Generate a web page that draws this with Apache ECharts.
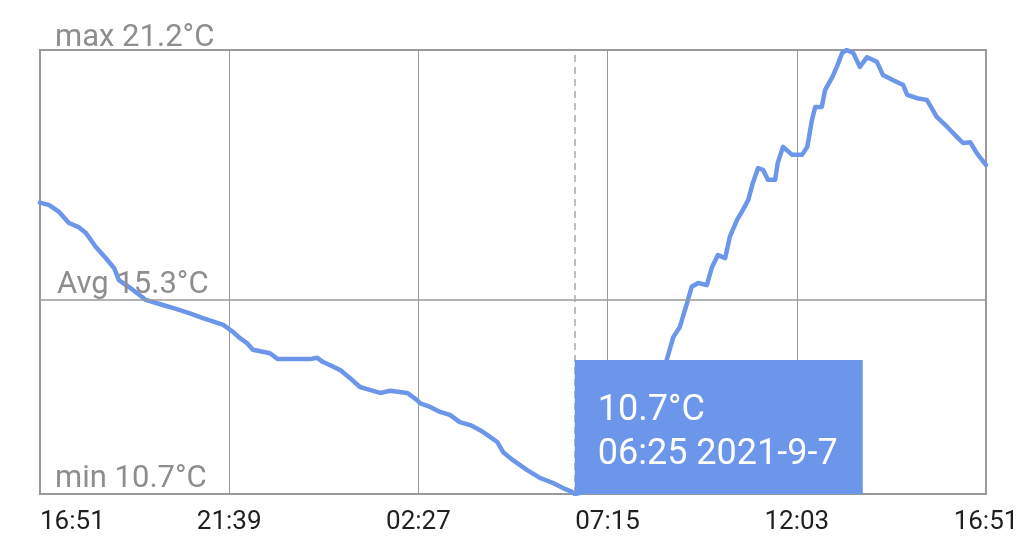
<!DOCTYPE html>
<html>
<head>
<meta charset="utf-8">
<script src="https://cdn.jsdelivr.net/npm/echarts@6/dist/echarts.min.js"></script>
<style>
  html, body { margin: 0; padding: 0; background: #ffffff; }
  #chart { width: 1024px; height: 541px; }
</style>
</head>
<body>
<div id="chart"></div>
<script>
// ---- data (minutes since 2021-9-6 16:51, temperature in °C) ----
const startLabel = { year: 2021, month: 9, day: 6, hour: 16, minute: 51 };
const minutes = [
  0, 14, 29, 44, 59, 70, 85, 100, 113, 120, 135, 151, 161, 187, 207, 227, 248, 279, 294, 304,
  315, 324, 350, 362, 388, 411, 422, 431, 441, 457, 472, 487, 498, 518, 533, 559, 574, 578, 594, 609,
  624, 639, 655, 670, 685, 696, 705, 720, 741, 761, 781, 796, 810, 814, 830, 850, 870, 890, 910, 930,
  945, 954, 964, 974, 985, 992, 1002, 1015, 1023, 1032, 1043, 1050, 1061, 1070, 1078, 1085, 1093, 1101, 1108, 1119,
  1123, 1131, 1145, 1160, 1168, 1175, 1180, 1190, 1195, 1206, 1213, 1221, 1228, 1238, 1248, 1259, 1274, 1283, 1298, 1314,
  1320, 1335, 1350, 1365, 1381, 1396, 1405, 1416, 1426, 1440
];
const temps = [
  17.59, 17.53, 17.37, 17.11, 17.01, 16.87, 16.54, 16.28, 16.04, 15.76, 15.60, 15.41, 15.29, 15.17, 15.08, 14.98, 14.86, 14.70, 14.53, 14.39,
  14.27, 14.11, 14.03, 13.89, 13.89, 13.89, 13.92, 13.82, 13.75, 13.63, 13.44, 13.23, 13.18, 13.09, 13.14, 13.09, 12.92, 12.85, 12.76, 12.64,
  12.57, 12.40, 12.33, 12.21, 12.05, 11.93, 11.69, 11.50, 11.27, 11.08, 10.96, 10.84, 10.75, 10.70, 10.75, 10.90, 11.20, 11.60, 12.10, 12.70,
  13.30, 13.87, 14.41, 14.65, 15.22, 15.60, 15.69, 15.64, 16.07, 16.35, 16.28, 16.78, 17.18, 17.42, 17.65, 18.05, 18.41, 18.36, 18.13, 18.13,
  18.53, 18.91, 18.72, 18.72, 18.91, 19.54, 19.85, 19.85, 20.25, 20.56, 20.80, 21.13, 21.20, 21.13, 20.80, 21.03, 20.92, 20.61, 20.49, 20.37,
  20.14, 20.06, 20.02, 19.62, 19.38, 19.14, 19.00, 19.02, 18.76, 18.48
];
const xTickLabels = ['16:51', '21:39', '02:27', '07:15', '12:03', '16:51'];
const tickStep = 288;
const statMax = 21.2;
const statAvg = 15.3;
const statMin = 10.7;

// ---- helpers ----
function pad(n) { return (n < 10 ? '0' : '') + n; }
function timeText(m) {
  const d = new Date(startLabel.year, startLabel.month - 1, startLabel.day, startLabel.hour, startLabel.minute + m);
  return pad(d.getHours()) + ':' + pad(d.getMinutes()) + ' ' + d.getFullYear() + '-' + (d.getMonth() + 1) + '-' + d.getDate();
}
let minIdx = 0;
temps.forEach((t, i) => { if (t < temps[minIdx]) minIdx = i; });

const seriesData = minutes.map((m, i) => [m, temps[i]]);
const FONT = 'Roboto';
const BLUE = '#6b96e9';
const GRAY = '#9a9a9a';

const chart = echarts.init(document.getElementById('chart'), null, { renderer: 'canvas' });
chart.setOption({
  animation: false,
  backgroundColor: '#ffffff',
  grid: { left: 40, right: 38, top: 50, bottom: 47, show: true, borderColor: GRAY, borderWidth: 2, backgroundColor: 'transparent' },
  xAxis: {
    type: 'value', min: 0, max: 1440, interval: tickStep,
    axisLine: { show: false }, axisTick: { show: false },
    splitLine: { show: true, lineStyle: { color: GRAY, width: 1 } },
    axisLabel: {
      color: '#1f1f1f', fontFamily: FONT, fontSize: 26, margin: 15,
      alignMinLabel: 'left', alignMaxLabel: 'center',
      formatter: v => xTickLabels[Math.round(v / tickStep)]
    }
  },
  yAxis: {
    type: 'value', min: statMin, max: statMax,
    axisLine: { show: false }, axisTick: { show: false },
    splitLine: { show: false }, axisLabel: { show: false }
  },
  series: [{
    type: 'line',
    data: seriesData,
    showSymbol: false,
    lineStyle: { color: BLUE, width: 4.5, join: 'round', cap: 'round' },
    itemStyle: { color: BLUE },
    z: 3,
    markLine: {
      silent: true, symbol: 'none', z: 4,
      label: { show: true, position: 'insideStartTop', color: '#8e8e8e', fontFamily: FONT, fontSize: 31 },
      data: [
        { yAxis: statMax, lineStyle: { color: GRAY, width: 0 }, label: { formatter: 'max ' + statMax + '°C', distance: [15, -4] } },
        { yAxis: statAvg, lineStyle: { color: GRAY, width: 1.5, type: 'solid' }, label: { formatter: 'Avg ' + statAvg + '°C', distance: [17, -1] } },
        { yAxis: statMin, lineStyle: { color: GRAY, width: 0 }, label: { formatter: 'min ' + statMin + '°C', distance: [15, -1] } },
        { xAxis: minutes[minIdx], lineStyle: { color: '#aaaaaa', width: 1.5, type: [7, 5] }, label: { show: false } }
      ]
    },
    markPoint: {
      silent: true, z: 10,
      symbol: 'rect', symbolSize: [288, 134], symbolOffset: ['50%', '-50%'],
      itemStyle: { color: BLUE },
      label: {
        show: true, position: [23, 29], align: 'left', verticalAlign: 'top',
        color: '#ffffff', fontFamily: FONT, fontSize: 36, lineHeight: 44,
        formatter: () => temps[minIdx] + '°C\n' + timeText(minutes[minIdx])
      },
      data: [{ coord: [minutes[minIdx], temps[minIdx]] }]
    }
  }]
});
</script>
</body>
</html>
